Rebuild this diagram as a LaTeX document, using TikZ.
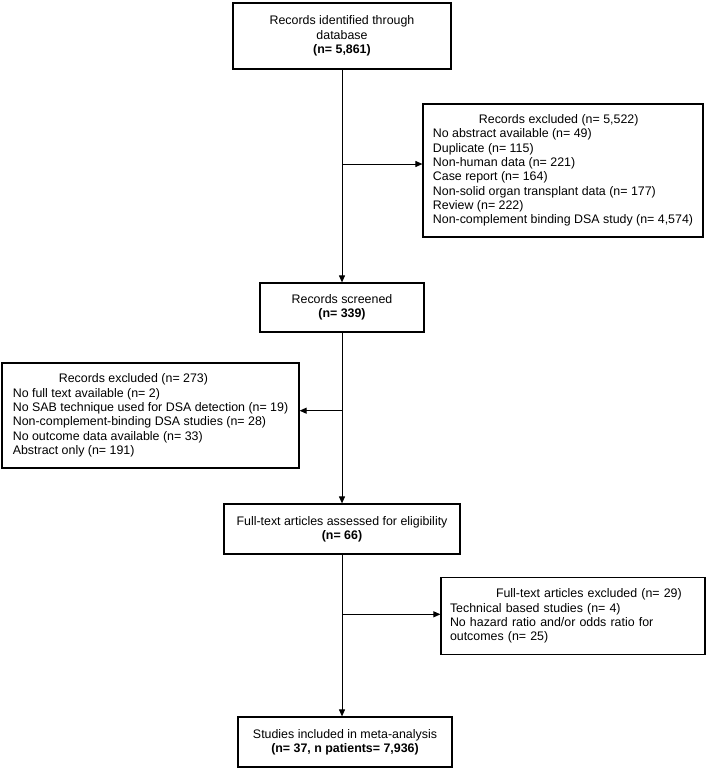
\documentclass[tikz,border=0pt]{standalone}
\usepackage{fontspec}
\setmainfont{Liberation Sans}
\usetikzlibrary{arrows.meta}
\setlength{\parindent}{0pt}

\begin{document}
\begin{tikzpicture}[x = 1pt, y = -1pt,
    box/.style = {draw, line width = 1.2pt, align = center, inner sep = 0pt,
                  font = \fontsize{12.4pt}{14.3pt}\selectfont},
    exbox/.style = {draw, line width = 1.2pt, align = left, inner xsep = 9pt, inner ysep = 0pt,
                    font = \fontsize{12.4pt}{14.3pt}\selectfont},
    arr/.style = {-{Triangle[length = 7pt, width = 6pt]}, line width = 1pt}]
  \useasboundingbox (0, 0) rectangle (708, 769);

  \node [box, minimum width = 218, minimum height = 66] (ident) at (342, 36)
        {Records identified through\\ database\\ \textbf{(n= 5,861)}};
  \node [box, minimum width = 164, minimum height = 49] (screen) at (342, 307.5)
        {Records screened\\ \textbf{(n= 339)}};
  \node [box, minimum width = 236, minimum height = 50] (elig) at (342, 529)
        {Full-text articles assessed for eligibility\\ \textbf{(n= 66)}};
  \node [box, minimum width = 214, minimum height = 50] (incl) at (345, 742)
        {Studies included in meta-analysis\\ \textbf{(n= 37, n patients= 7,936)}};

  \node [exbox, minimum width = 280, minimum height = 133] (excla) at (563, 170.5)
        {\hspace*{46pt}Records excluded (n= 5,522)\\
         No abstract available (n= 49)\\
         Duplicate (n= 115)\\
         Non-human data (n= 221)\\
         Case report (n= 164)\\
         Non-solid organ transplant data (n= 177)\\
         Review (n= 222)\\
         Non-complement binding DSA study (n= 4,574)};
  \node [exbox, minimum width = 297, minimum height = 105] (exclb) at (150.5, 415.5)
        {\hspace*{46pt}Records excluded (n= 273)\\
         No full text available (n= 2)\\
         No SAB technique used for DSA detection (n= 19)\\
         Non-complement-binding DSA studies (n= 28)\\
         No outcome data available (n= 33)\\
         Abstract only (n= 191)};
  \node [exbox, text width = 246, minimum height = 77] (exclc) at (573, 616)
        {\hspace*{46pt}Full-text articles excluded (n= 29)\\
         Technical based studies (n= 4)\\
         No hazard ratio and/or odds ratio for\\
         outcomes (n= 25)};

  \coordinate (ja) at (342, 164);
  \coordinate (jb) at (342, 410.7);
  \coordinate (jc) at (342, 614.3);

  \draw [arr] (ident) -- (screen);
  \draw [arr] (screen) -- (elig);
  \draw [arr] (elig.south) -- (elig.south |- incl.north);

  \draw [arr] (ja) -- (ja -| excla.west);
  \draw [arr] (jb) -- (jb -| exclb.east);
  \draw [arr] (jc) -- (jc -| exclc.west);
\end{tikzpicture}
\end{document}
